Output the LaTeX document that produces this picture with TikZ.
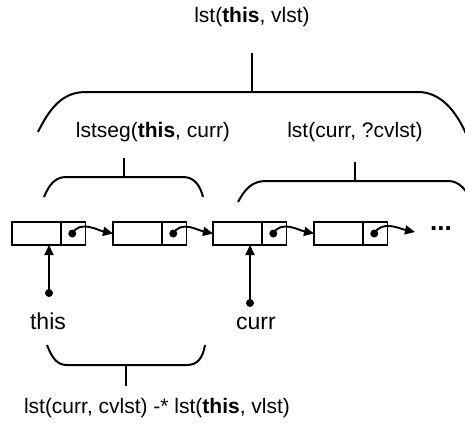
\documentclass[tikz,border=0pt]{standalone}
\usepackage{fontspec}
\setmainfont{Liberation Sans}
\usetikzlibrary{arrows.meta}
\begin{document}
\begin{tikzpicture}[x=1pt,y=-1pt,
 cell/.style={draw, line width=1.9pt, minimum height=23pt, inner sep=0pt, outer sep=0pt},
 datacell/.style={cell, minimum width=49pt},
 ptrcell/.style={cell, minimum width=24.5pt},
 lbl/.style={font=\fontsize{21}{25}\selectfont, inner sep=0pt},
 biglbl/.style={font=\fontsize{23}{27}\selectfont, inner sep=0pt},
 ptr/.style={-{Triangle[length=10pt,width=9pt]}, line width=1.9pt},
 brace/.style={line width=2pt},
 dotmark/.style={fill, circle, inner sep=0pt, minimum size=8pt}]
\useasboundingbox (0,0) rectangle (465,423);

% list cells
\node[datacell, anchor=west] (d1) at (12,233.5) {};
\node[ptrcell, anchor=west] (p1) at (d1.east) {};
\node[datacell, anchor=west] (d2) at (113,233.5) {};
\node[ptrcell, anchor=west] (p2) at (d2.east) {};
\node[datacell, anchor=west] (d3) at (213,233.5) {};
\node[ptrcell, anchor=west] (p3) at (d3.east) {};
\node[datacell, anchor=west] (d4) at (314,233.5) {};
\node[ptrcell, anchor=west] (p4) at (d4.east) {};

% pointer dots
\node[dotmark] (q1) at ([xshift=-1pt]p1.center) {};
\node[dotmark] (q2) at ([xshift=-1pt]p2.center) {};
\node[dotmark] (q3) at ([xshift=-1pt]p3.center) {};
\node[dotmark] (q4) at ([xshift=-1pt]p4.center) {};
\coordinate (tail) at (415,232);
\node[font=\fontsize{26}{30}\selectfont\bfseries, inner sep=0pt] (ell) at (441,229) {...};

\draw[ptr] (q1.center) to[out=60,in=168] (d2.west);
\draw[ptr] (q2.center) to[out=60,in=168] (d3.west);
\draw[ptr] (q3.center) to[out=60,in=168] (d4.west);
\draw[ptr] (q4.center) to[out=60,in=168] (tail);

% variable pointers
\node[dotmark] (tdot) at (49,293) {};
\node[dotmark] (cdot) at (250,303) {};
\draw[ptr] (tdot.center) -- (d1.south -| tdot.center);
\draw[ptr] (cdot.center) -- (d3.south -| cdot.center);
\node[biglbl, anchor=base] (this) at (48,329) {this};
\node[biglbl, anchor=base] (curr) at (256,329) {curr};

% labels
\node[lbl, anchor=base] (top) at (252,22) {lst(\textbf{this}, vlst)};
\node[lbl, anchor=base] (seg) at (153,137) {lstseg(\textbf{this}, curr)};
\node[lbl, anchor=base] (rest) at (355,137) {lst(curr, ?cvlst)};
\node[lbl, anchor=base] (wand) at (157,413) {lst(curr, cvlst) -* lst(\textbf{this}, vlst)};

% big brace
\coordinate (bigtop) at (252,53);
\coordinate (bigmid) at (252,92);
\draw[brace] (38,132) .. controls (52,103) and (66,92) .. (86,92) -- (418,92) .. controls (440,92) and (456,110) .. (467,136);
\draw[brace] (bigtop) -- (bigmid);

% left small brace
\coordinate (lstop) at (124,158);
\coordinate (lsmid) at (124,177);
\draw[brace] (44,197) .. controls (49,185) and (55,177) .. (66,177) -- (183,177) .. controls (194,177) and (200,185) .. (203,197);
\draw[brace] (lstop) -- (lsmid);

% right small brace
\coordinate (rstop) at (355,162);
\coordinate (rsmid) at (355,181);
\draw[brace] (238,202) .. controls (245,189) and (252,181) .. (266,181) -- (448,181) .. controls (459,181) and (465,189) .. (471,199);
\draw[brace] (rstop) -- (rsmid);

% bottom brace
\coordinate (bbmid) at (126,365);
\coordinate (bbbot) at (126,386);
\draw[brace] (47,345) .. controls (52,358) and (57,365) .. (67,365) -- (187,365) .. controls (198,365) and (203,357) .. (205,345);
\draw[brace] (bbmid) -- (bbbot);
\end{tikzpicture}
\end{document}
